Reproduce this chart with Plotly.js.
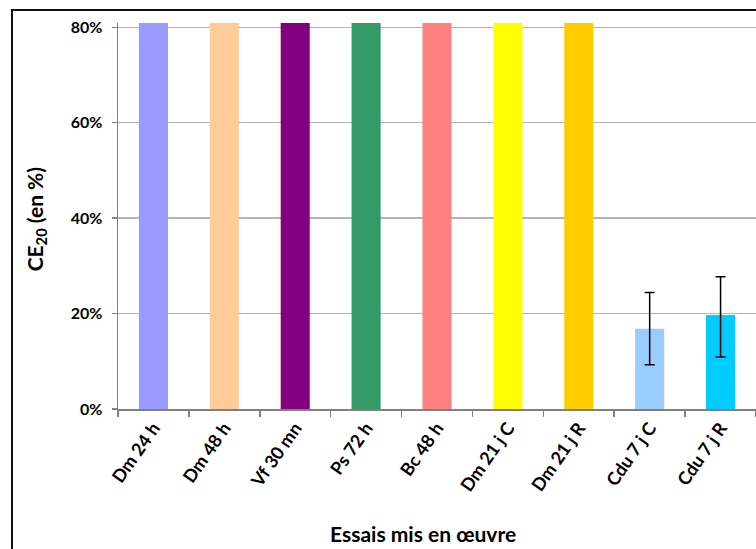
<!DOCTYPE html>
<html>
<head>
<meta charset="utf-8">
<script src="https://cdn.plot.ly/plotly-3.0.1.min.js"></script>
<style>
  html, body { margin: 0; padding: 0; background: #fff; overflow: hidden; }
  #wrap { position: relative; width: 756px; height: 549px; }
  #chart { position: absolute; left: 0; top: 0; width: 756px; height: 549px; }
  #frame { position: absolute; left: 11px; top: 9px; width: 800px; height: 600px;
           border-left: 2px solid #111; border-top: 2px solid #111; pointer-events: none; }
</style>
</head>
<body>
<div id="wrap">
  <div id="chart"></div>
  <div id="frame"></div>
</div>
<script>
// ---- data ----
const categories = ["Dm 24 h", "Dm 48 h", "Vf 30 mn", "Ps 72 h", "Bc 48 h", "Dm 21 j C", "Dm 21 j R", "Cdu 7 j C", "Cdu 7 j R"];
const values = [0.81, 0.81, 0.81, 0.81, 0.81, 0.81, 0.81, 0.168, 0.197];
const errorsPlus = [NaN, NaN, NaN, NaN, NaN, NaN, NaN, 0.076, 0.080];
const errorsMinus = [NaN, NaN, NaN, NaN, NaN, NaN, NaN, 0.075, 0.088];
const barColors = ["#9999FF", "#FFCC99", "#800080", "#339966", "#FF8080", "#FFFF00", "#FFCC00", "#99CCFF", "#00CCFF"];
const yTickVals = [0, 0.2, 0.4, 0.6, 0.8];
const yTickText = ["0%", "20%", "40%", "60%", "80%"];
const xTitle = "Essais mis en œuvre";
const yTitle = "CE<sub>20</sub> (en %)";

const fontFamily = "Lato, 'Open Sans', sans-serif";

const trace = {
  type: "bar",
  x: categories,
  y: values,
  marker: { color: barColors, line: { width: 0 } },
  error_y: {
    type: "data",
    symmetric: false,
    array: errorsPlus,
    arrayminus: errorsMinus,
    visible: true,
    color: "#000",
    thickness: 1.5,
    width: 5
  },
  hoverinfo: "none"
};

const layout = {
  width: 756,
  height: 549,
  margin: { l: 118, r: 0, t: 23, b: 140, pad: 0 },
  paper_bgcolor: "#fff",
  plot_bgcolor: "#fff",
  showlegend: false,
  bargap: 0.59,
  font: { family: fontFamily, size: 16, color: "#000" },
  xaxis: {
    type: "category",
    tickson: "boundaries",
    ticks: "outside",
    ticklen: 6,
    tickwidth: 1.5,
    tickcolor: "#808080",
    showline: true,
    linecolor: "#808080",
    linewidth: 1.5,
    tickangle: -55,
    tickfont: { family: fontFamily, size: 18, color: "#000", weight: "bold" },
    showgrid: false,
    zeroline: false,
    automargin: false
  },
  yaxis: {
    range: [0, 0.809],
    tickvals: yTickVals,
    ticktext: yTickText,
    ticks: "outside",
    ticklen: 5,
    tickwidth: 1.5,
    tickcolor: "#808080",
    showline: true,
    linecolor: "#808080",
    linewidth: 1.5,
    showgrid: true,
    gridcolor: "#B4B4B4",
    gridwidth: 1.5,
    zeroline: false,
    automargin: false,
    ticklabelstandoff: 6,
    tickfont: { family: fontFamily, size: 16, color: "#000", weight: "bold" }
  },
  annotations: [
    {
      text: "<b>" + xTitle + "</b>",
      xref: "paper", yref: "paper",
      x: (422.5 - 118) / 638, y: -(534 - 409.3) / 386.3,
      xanchor: "center", yanchor: "middle",
      showarrow: false,
      font: { family: fontFamily, size: 21, color: "#000" }
    },
    {
      text: "<b>" + yTitle + "</b>",
      xref: "paper", yref: "paper",
      x: -(118 - 36) / 638, y: (409.3 - 219.5) / 386.3,
      xanchor: "center", yanchor: "middle",
      textangle: -90,
      showarrow: false,
      font: { family: fontFamily, size: 21, color: "#000" }
    }
  ]
};

Plotly.newPlot("chart", [trace], layout, { displayModeBar: false, staticPlot: true });
</script>
</body>
</html>
